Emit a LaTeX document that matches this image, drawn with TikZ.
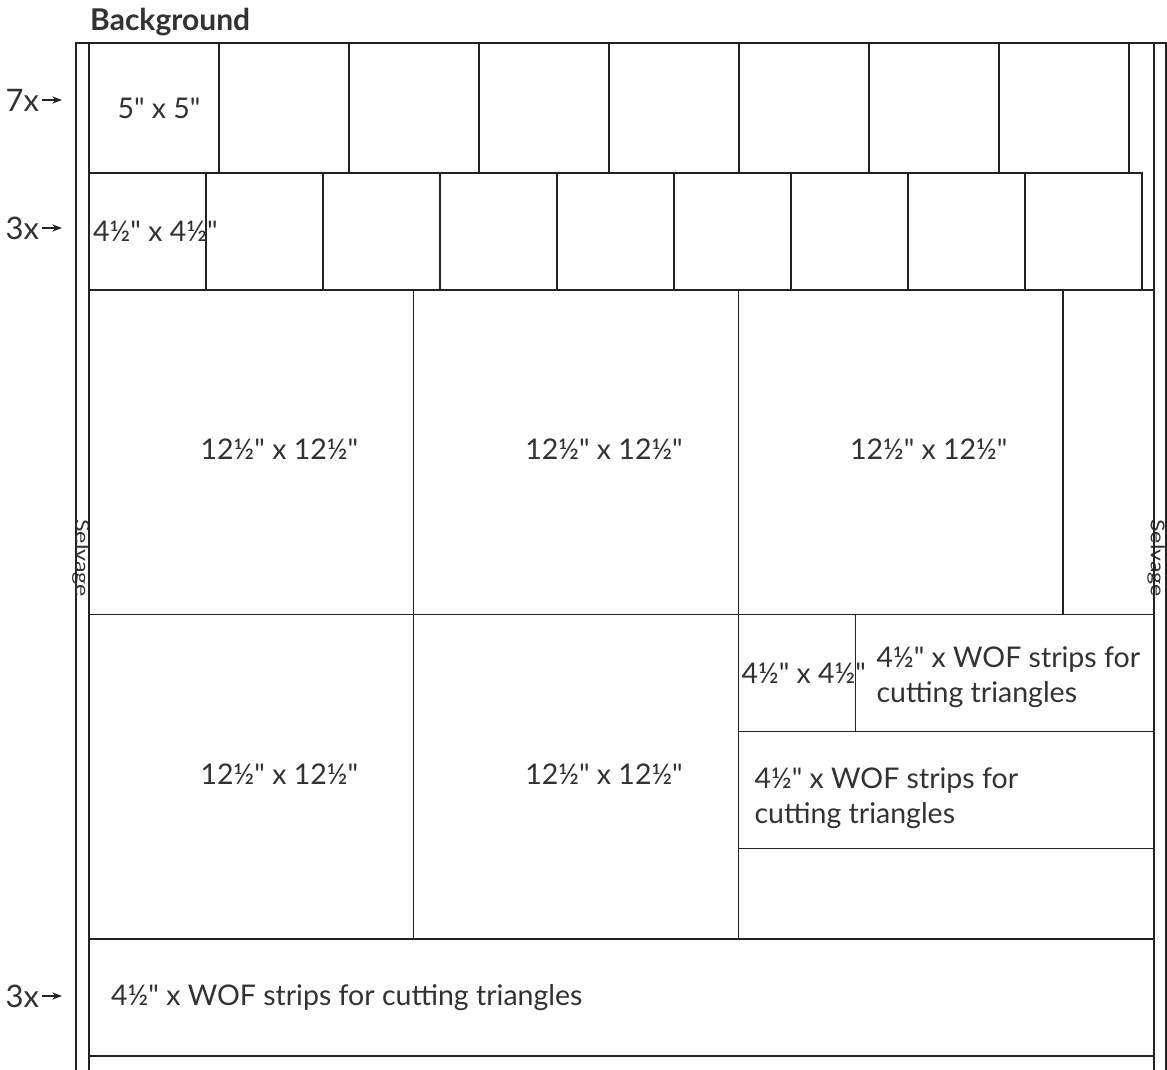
\documentclass[tikz,border=0pt]{standalone}
\usepackage{fontspec}
\setmainfont{Lato}[Ligatures=TeXOff]
\usetikzlibrary{positioning, arrows.meta}
\definecolor{line_grey}{RGB}{35,35,35}
\definecolor{text_grey}{RGB}{50,50,50}

\tikzset{
  piece/.style={draw=line_grey, rectangle, line width=1.3pt, inner sep=0pt, outer sep=0pt, anchor=north west},
  five_piece/.style={piece, minimum width=130pt, minimum height=130pt},
  small_piece/.style={piece, minimum width=117pt, minimum height=117pt},
  big_piece/.style={piece, minimum width=324.7pt, minimum height=324.5pt},
  cut_label/.style={text=text_grey, font=\fontsize{28.5}{35}\selectfont, inner sep=0pt, align=left},
  row_label/.style={text=text_grey, font=\fontsize{31}{35}\selectfont, inner sep=0pt, outer sep=3pt, anchor=east},
  selvage_label/.style={text=text_grey, font=\fontsize{19}{20}\selectfont, inner sep=0pt, rotate=-90, xscale=1.22},
}

\begin{document}
\begin{tikzpicture}[>=Stealth]

    \clip (0,0) rectangle (1167pt,-1070pt);

    % --- Begin Fabric Node ---
    \node [piece, minimum width=1090pt, minimum height=1040pt] (fabric) at (76pt,-43pt) {};
    \node [piece, minimum width=13pt, minimum height=1040pt] (left_selvage) at (fabric.north west) {};
    \node [piece, minimum width=12pt, minimum height=1040pt] (right_selvage) at (1154pt,-43pt) {};
    \node [selvage_label] (left_selvage_text) at (81pt,-558pt) {Selvage};
    \node [selvage_label] (right_selvage_text) at (1156pt,-558pt) {Selvage};
    \node [font=\bfseries\fontsize{30}{32}\selectfont, text=text_grey, anchor=base west, inner sep=0pt] (title) at (90pt,-31pt) {Background};
    % --- End Fabric Node ---

    % --- Begin 5 inch Row ---
    \node [five_piece] (five_1) at (89pt,-43pt) {};
    \node [five_piece, right=0pt of five_1] (five_2) {};
    \node [five_piece, right=0pt of five_2] (five_3) {};
    \node [five_piece, right=0pt of five_3] (five_4) {};
    \node [five_piece, right=0pt of five_4] (five_5) {};
    \node [five_piece, right=0pt of five_5] (five_6) {};
    \node [five_piece, right=0pt of five_6] (five_7) {};
    \node [five_piece, right=0pt of five_7] (five_8) {};
    \node [cut_label] (five_1_label) at ([xshift=5pt]five_1.center) {5" x 5"};
    % --- End 5 inch Row ---

    % --- Begin 4.5 inch Row ---
    \node [small_piece] (small_1) at (five_1.south west) {};
    \node [small_piece, right=0pt of small_1] (small_2) {};
    \node [small_piece, right=0pt of small_2] (small_3) {};
    \node [small_piece, right=0pt of small_3] (small_4) {};
    \node [small_piece, right=0pt of small_4] (small_5) {};
    \node [small_piece, right=0pt of small_5] (small_6) {};
    \node [small_piece, right=0pt of small_6] (small_7) {};
    \node [small_piece, right=0pt of small_7] (small_8) {};
    \node [small_piece, right=0pt of small_8] (small_9) {};
    \node [cut_label, anchor=west] (small_1_label) at ([xshift=4pt]small_1.west) {4½" x 4½"};
    % --- End 4.5 inch Row ---

    % --- Begin 12.5 inch Rows ---
    \node [big_piece] (big_1) at (small_1.south west) {};
    \node [big_piece, right=0pt of big_1] (big_2) {};
    \node [big_piece, right=0pt of big_2] (big_3) {};
    \node [piece, minimum width=91pt, minimum height=324.5pt, right=0pt of big_3] (big_spare) {};
    \node [big_piece] (big_4) at (big_1.south west) {};
    \node [big_piece, right=0pt of big_4] (big_5) {};

    \node [cut_label] (big_1_label) at ([xshift=28pt, yshift=3pt]big_1.center) {12½" x 12½"};
    \node [cut_label] (big_2_label) at ([xshift=28pt, yshift=3pt]big_2.center) {12½" x 12½"};
    \node [cut_label] (big_3_label) at ([xshift=28pt, yshift=3pt]big_3.center) {12½" x 12½"};
    \node [cut_label] (big_4_label) at ([xshift=28pt, yshift=3pt]big_4.center) {12½" x 12½"};
    \node [cut_label] (big_5_label) at ([xshift=28pt, yshift=3pt]big_5.center) {12½" x 12½"};
    % --- End 12.5 inch Rows ---

    % --- Begin Corner Strips ---
    \node [small_piece] (corner_square) at (big_5.north east) {};
    \node [piece, minimum width=299pt, minimum height=117pt, right=0pt of corner_square] (corner_strip) {};
    \node [piece, minimum width=416pt, minimum height=117pt] (mid_strip) at (corner_square.south west) {};
    \node [piece, minimum width=416pt, minimum height=91pt] (spare_strip) at (mid_strip.south west) {};

    \node [cut_label, anchor=west] (corner_square_label) at ([xshift=3pt]corner_square.west) {4½" x 4½"};
    \node [cut_label, anchor=west] (corner_strip_label) at ([xshift=21pt, yshift=-4pt]corner_strip.west) {4½" x WOF strips for\\cutting triangles};
    \node [cut_label, anchor=west] (mid_strip_label) at ([xshift=16pt, yshift=-8pt]mid_strip.west) {4½" x WOF strips for\\cutting triangles};
    % --- End Corner Strips ---

    % --- Begin WOF Row ---
    \node [piece, minimum width=1065pt, minimum height=117pt] (wof_strip) at (big_4.south west) {};
    \node [cut_label, anchor=west] (wof_label) at ([xshift=22pt]wof_strip.west) {4½" x WOF strips for cutting triangles};
    % --- End WOF Row ---

    % Row counts with their arrows.
    \node [row_label] (seven_label) at (42pt,-100pt) {7x};
    \node [row_label] (three_label) at (42pt,-228pt) {3x};
    \node [row_label] (wof_count_label) at (42pt,-996pt) {3x};
    \coordinate [left=14pt of left_selvage.west |- seven_label] (seven_tip);
    \coordinate [left=14pt of left_selvage.west |- three_label] (three_tip);
    \coordinate [left=14pt of left_selvage.west |- wof_count_label] (wof_count_tip);
    \draw [->, line width=1.5pt, line_grey] (seven_label.east) -- (seven_tip);
    \draw [->, line width=1.5pt, line_grey] (three_label.east) -- (three_tip);
    \draw [->, line width=1.5pt, line_grey] (wof_count_label.east) -- (wof_count_tip);

\end{tikzpicture}
\end{document}
